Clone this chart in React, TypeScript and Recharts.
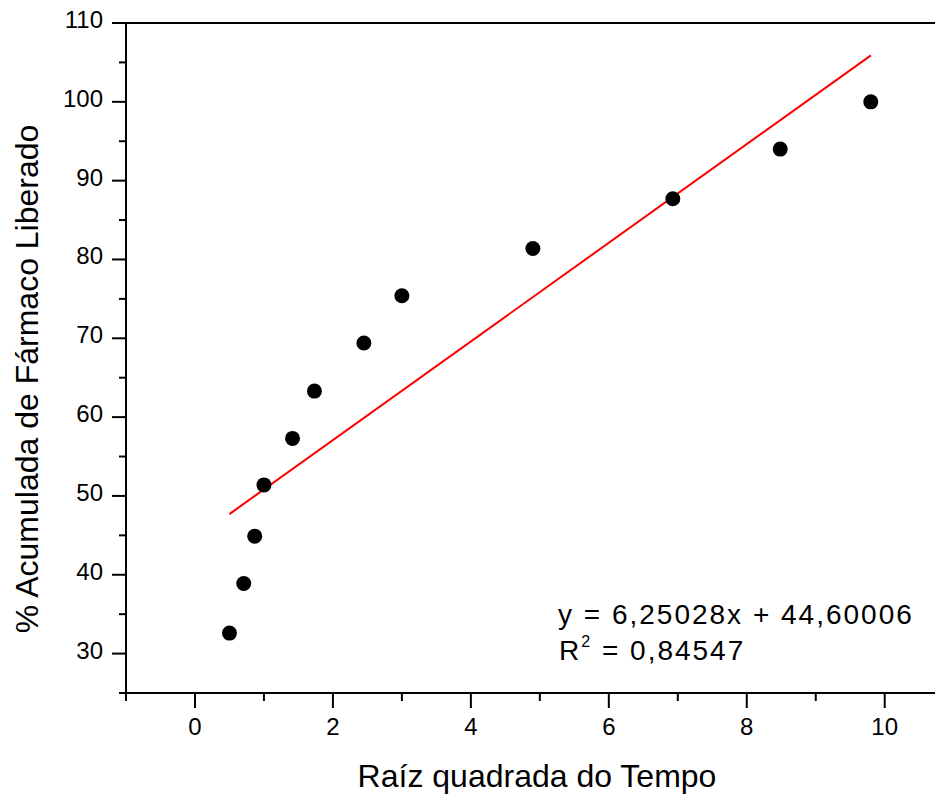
import { ComposedChart, ReferenceLine, Scatter, XAxis, YAxis } from "recharts";

const FONT = '"Liberation Sans", Arial, sans-serif';

// raíz quadrada do tempo (x) e % acumulada liberada (y)
const sqrtTime = [0.5, 0.707, 0.866, 1, 1.414, 1.732, 2.449, 3, 4.899, 6.928, 8.485, 9.798];
const released = [32.6, 38.9, 44.9, 51.4, 57.3, 63.3, 69.4, 75.4, 81.4, 87.7, 94.0, 100.0];

// extremos da reta de ajuste
const fitX = [0.5, 9.8];
const fitY = [47.7, 105.9];

const xTicks = [-1, 0, 1, 2, 3, 4, 5, 6, 7, 8, 9, 10];
const yTicks = [25, 30, 35, 40, 45, 50, 55, 60, 65, 70, 75, 80, 85, 90, 95, 100, 105, 110];

const points = sqrtTime.map((x, i) => ({ x, y: released[i] }));
const fitLine = fitX.map((x, i) => ({ x, y: fitY[i] }));

const W = 935;
const H = 790;

function XTick({ x, y, payload }: any) {
  const major = payload.value % 2 === 0;
  return (
    <g>
      <line x1={x} x2={x} y1={y} y2={y + (major ? 15 : 8)} stroke="#000" strokeWidth={2} />
      {major && (
        <text x={x} y={y + 42} textAnchor="middle" fontSize={24} fontFamily={FONT} fill="#000">
          {payload.value}
        </text>
      )}
    </g>
  );
}

function YTick({ x, y, payload }: any) {
  const major = payload.value % 10 === 0;
  return (
    <g>
      <line x1={x - (major ? 14 : 7)} x2={x} y1={y} y2={y} stroke="#000" strokeWidth={2} />
      {major && (
        <text x={x - 23} y={y + 5} textAnchor="end" fontSize={24} fontFamily={FONT} fill="#000">
          {payload.value}
        </text>
      )}
    </g>
  );
}

function Dot(props: any) {
  return <circle cx={props.cx} cy={props.cy} r={7.5} fill="#000" />;
}

export default function App() {
  return (
    <div style={{ position: "relative", width: W, height: H, background: "#fff" }}>
      <style>{`html, body { overflow: hidden; }`}</style>
      <ComposedChart width={W} height={H} margin={{ top: 15, right: 0, bottom: 0, left: 0 }}>
        <XAxis
          type="number"
          dataKey="x"
          domain={[-1, 10.845]}
          allowDataOverflow
          ticks={xTicks}
          interval={0}
          height={105}
          tickSize={0}
          tickMargin={0}
          tickLine={false}
          axisLine={{ stroke: "#000", strokeWidth: 2 }}
          tick={<XTick />}
        />
        <YAxis
          type="number"
          dataKey="y"
          domain={[25, 110]}
          allowDataOverflow
          ticks={yTicks}
          interval={0}
          width={118}
          tickSize={0}
          tickMargin={0}
          tickLine={false}
          axisLine={{ stroke: "#000", strokeWidth: 2 }}
          tick={<YTick />}
        />
        <ReferenceLine y={110} stroke="#000" strokeWidth={2} />
        <Scatter
          data={fitLine}
          line={{ stroke: "#ff0000", strokeWidth: 2 }}
          shape={() => <g />}
          isAnimationActive={false}
        />
        <Scatter data={points} fill="#000" shape={<Dot />} isAnimationActive={false} />
      </ComposedChart>
      <svg
        width={W}
        height={H}
        style={{ position: "absolute", left: 0, top: 0, pointerEvents: "none" }}
        fontFamily={FONT}
      >
        <text x={529} y={779} textAnchor="middle" fontSize={32} fill="#000">
          Raíz quadrada do Tempo
        </text>
        <text
          transform="translate(30, 371) rotate(-90)"
          textAnchor="middle"
          fontSize={32}
          fill="#000"
        >
          % Acumulada de Fármaco Liberado
        </text>
        <text x={550} y={616} fontSize={28} letterSpacing={2} fill="#000">
          y = 6,25028x + 44,60006
        </text>
        <text x={551} y={652} fontSize={28} letterSpacing={2} fill="#000">
          R
          <tspan fontSize={16} dy={-13}>
            2
          </tspan>
          <tspan fontSize={28} dy={13}>
            {" "}= 0,84547
          </tspan>
        </text>
      </svg>
    </div>
  );
}
